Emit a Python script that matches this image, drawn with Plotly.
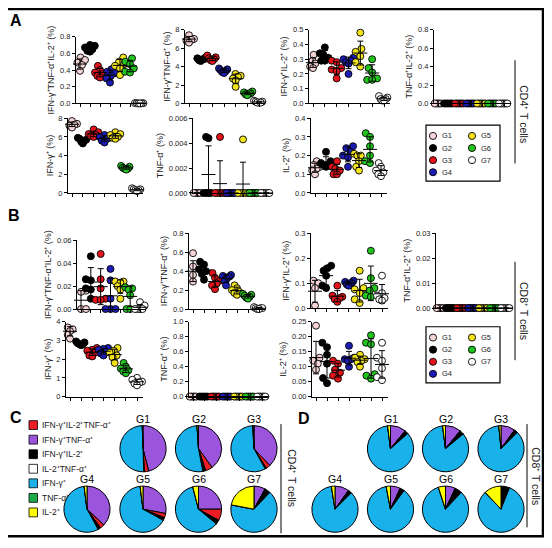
import numpy as np
import plotly.graph_objects as go

W, H = 552, 548
OX, OY = 8, 8  # page body margin offset of the plot div
FONT = "Arial, Liberation Sans, sans-serif"

groups = ["G1", "G2", "G3", "G4", "G5", "G6", "G7"]
group_fill = ["#f4d3d6", "#000000", "#e3141c", "#1c1cb4", "#f2e31b", "#23c41f", "#ffffff"]

# ---------------- Panel A : CD4+ T cells (% of cells) ----------------
cd4_ifng_tnfa_il2 = [[0.55, 0.52, 0.49, 0.46, 0.42, 0.39], [0.70, 0.69, 0.67, 0.65, 0.63, 0.62],
                     [0.45, 0.40, 0.37, 0.35, 0.33, 0.31], [0.41, 0.38, 0.36, 0.33, 0.30, 0.25],
                     [0.55, 0.50, 0.47, 0.45, 0.42, 0.34], [0.54, 0.50, 0.47, 0.42, 0.38, 0.37],
                     [0.005, 0.004, 0.003, 0.002, 0.001, 0.0]]
cd4_ifng_tnfa = [[7.4, 7.2, 7.0, 6.9, 6.8, 6.6], [5.0, 4.9, 4.8, 4.8, 4.7, 4.6],
                 [5.2, 5.0, 4.9, 4.8, 4.7, 4.6], [3.8, 3.7, 3.6, 3.5, 3.4, 3.3],
                 [3.2, 3.0, 2.9, 2.7, 2.5, 1.8], [1.3, 1.2, 1.1, 1.1, 1.0, 0.9],
                 [0.3, 0.2, 0.2, 0.1, 0.1, 0.1]]
cd4_ifng_il2 = [[0.33, 0.29, 0.28, 0.27, 0.25, 0.24], [0.38, 0.34, 0.33, 0.31, 0.29, 0.29],
                [0.29, 0.28, 0.24, 0.23, 0.22, 0.17], [0.31, 0.30, 0.29, 0.28, 0.27, 0.20],
                [0.48, 0.37, 0.35, 0.32, 0.28, 0.25], [0.30, 0.24, 0.21, 0.17, 0.16, 0.16],
                [0.05, 0.04, 0.03, 0.03, 0.02, 0.02]]
cd4_tnfa_il2 = [[0.0] * 6 for _ in range(7)]
cd4_ifng = [[7.7, 7.5, 7.4, 7.3, 7.2, 7.0], [5.9, 5.8, 5.7, 5.6, 5.5, 5.3],
            [6.8, 6.5, 6.3, 6.2, 6.1, 6.0], [6.2, 6.0, 5.9, 5.8, 5.6, 5.4],
            [6.5, 6.3, 6.2, 6.0, 5.9, 5.8], [2.9, 2.8, 2.7, 2.6, 2.6, 2.5],
            [0.5, 0.4, 0.4, 0.3, 0.3, 0.2]]
cd4_tnfa = [[0, 0, 0, 0, 0, 0], [0.0045, 0.0044, 0, 0, 0, 0], [0.0045, 0, 0, 0, 0, 0],
            [0, 0, 0, 0, 0, 0], [0.0043, 0, 0, 0, 0, 0], [0, 0, 0, 0, 0, 0], [0, 0, 0, 0, 0, 0]]
cd4_il2 = [[0.17, 0.15, 0.14, 0.13, 0.12, 0.10], [0.22, 0.17, 0.16, 0.15, 0.15, 0.14],
           [0.17, 0.14, 0.13, 0.12, 0.10, 0.10], [0.25, 0.24, 0.22, 0.20, 0.19, 0.14],
           [0.21, 0.20, 0.20, 0.17, 0.14, 0.12], [0.32, 0.30, 0.25, 0.20, 0.17, 0.16],
           [0.16, 0.14, 0.12, 0.11, 0.10, 0.09]]

# ---------------- Panel B : CD8+ T cells ----------------
cd8_ifng_tnfa_il2 = [[0.016, 0.015, 0.015, 0, 0, 0], [0.046, 0.026, 0.025, 0.018, 0.017, 0.009],
                     [0.048, 0.026, 0.018, 0.009, 0.008, 0.008], [0.035, 0.025, 0.009, 0, 0, 0],
                     [0.024, 0.024, 0.023, 0.020, 0.017, 0.009], [0.019, 0.018, 0.017, 0.012, 0, 0],
                     [0.006, 0.003, 0, 0, 0, 0]]
cd8_ifng_tnfa = [[0.59, 0.45, 0.40, 0.36, 0.31, 0.29], [0.50, 0.47, 0.42, 0.40, 0.37, 0.31],
                 [0.38, 0.33, 0.30, 0.27, 0.25, 0.21], [0.36, 0.35, 0.34, 0.32, 0.30, 0.25],
                 [0.25, 0.22, 0.20, 0.18, 0.17, 0.15], [0.16, 0.15, 0.14, 0.13, 0.12, 0.11],
                 [0.02, 0.01, 0.01, 0.01, 0.0, 0.0]]
cd8_ifng_il2 = [[0.11, 0.10, 0.09, 0.08, 0.015, 0.01], [0.17, 0.16, 0.15, 0.13, 0.09, 0.08],
                [0.09, 0.05, 0.045, 0.04, 0.035, 0.025], [0.11, 0.105, 0.10, 0.10, 0.095, 0.09],
                [0.15, 0.08, 0.075, 0.06, 0.035, 0.02], [0.23, 0.12, 0.08, 0.07, 0.05, 0.045],
                [0.13, 0.06, 0.05, 0.04, 0.035, 0.03]]
cd8_tnfa_il2 = [[0.0] * 6 for _ in range(7)]
cd8_ifng = [[3.75, 3.7, 3.6, 3.5, 3.3, 3.1], [2.95, 2.9, 2.85, 2.8, 2.8, 2.75],
            [2.6, 2.5, 2.45, 2.35, 2.2, 2.15], [2.6, 2.55, 2.5, 2.4, 2.3, 2.2],
            [2.6, 2.45, 2.35, 2.2, 2.1, 1.8], [1.8, 1.6, 1.5, 1.4, 1.35, 1.25],
            [1.0, 0.9, 0.8, 0.75, 0.7, 0.6]]
cd8_tnfa = [[0.0] * 6 for _ in range(7)]
cd8_il2 = [[0.237, 0.13, 0.12, 0.11, 0.095, 0.09], [0.18, 0.165, 0.14, 0.11, 0.062, 0.045],
           [0.12, 0.11, 0.09, 0.08, 0.07, 0.06], [0.17, 0.13, 0.125, 0.125, 0.12, 0.10],
           [0.14, 0.13, 0.125, 0.12, 0.115, 0.10], [0.205, 0.18, 0.175, 0.075, 0.07, 0.06],
           [0.18, 0.13, 0.12, 0.095, 0.065, 0.055]]

# ---------------- Pies (C: CD4, D: CD8), slices in clockwise order ----------------
pie_labels = ["IFN-γ⁺TNF-α⁺", "IFN-γ⁺IL-2⁺TNF-α⁺", "IFN-γ⁺IL-2⁺", "IL-2⁺TNF-α⁺",
              "IFN-γ⁺", "TNF-α⁺", "IL-2⁺"]
pie_colors = ["#9b55dc", "#ee1c25", "#000000", "#ffffff", "#19b1ea", "#1faa4a", "#ffff00"]
cd4_pie = [[46, 3, 0.5, 0, 50, 0, 0.5], [40, 5, 2, 0, 52, 0, 1], [38, 3, 1, 0, 57, 0.5, 0.5],
           [37, 3, 2, 0, 56, 0, 2], [28, 3, 2, 0, 65, 0, 2], [25, 8, 3, 0, 60, 0, 4],
           [8, 0, 4, 0, 66, 0, 22]]
cd8_pie = [[11, 0, 2.5, 0, 84.5, 0, 2], [11, 0, 3, 0, 84, 0, 2], [10, 0, 2.5, 0, 86, 0, 1.5],
           [10, 0, 2.5, 0, 85, 0, 2.5], [7, 0, 3, 0, 87, 0, 3], [7, 0, 5, 0, 83, 0, 5],
           [0, 0, 6, 0, 82, 0, 12]]
legend_order = ["IFN-γ⁺IL-2⁺TNF-α⁺", "IFN-γ⁺TNF-α⁺", "IFN-γ⁺IL-2⁺", "IL-2⁺TNF-α⁺",
                "IFN-γ⁺", "TNF-α⁺", "IL-2⁺"]


def fx(px):
    return (px - OX) / W


def fy(py):
    return 1 - (py - OY) / H


# panel specs: data, ymax, dtick, tickformat, title, pixel box (x0, x1, ytop, ybot)
panels = [
    (cd4_ifng_tnfa_il2, 0.8, 0.2, ".1f", "IFN-γ⁺TNF-α⁺IL-2⁺ (%)", (76, 146, 33, 101)),
    (cd4_ifng_tnfa, 8, 2, "d", "IFN-γ⁺TNF-α⁺ (%)", (185, 265, 26, 101)),
    (cd4_ifng_il2, 0.5, 0.1, ".1f", "IFN-γ⁺IL-2⁺ (%)", (309, 390, 26, 101)),
    (cd4_tnfa_il2, 0.8, 0.2, ".1f", "TNF-α⁺IL-2⁺ (%)", (434, 510, 26, 101)),
    (cd4_ifng, 8, 2, "d", "IFN-γ⁺ (%)", (68, 143, 116, 192)),
    (cd4_tnfa, 0.006, 0.002, ".3f", "TNF-α⁺ (%)", (193, 272, 116, 192)),
    (cd4_il2, 0.4, 0.1, ".1f", "IL-2⁺ (%)", (311, 387, 116, 192)),
    (cd8_ifng_tnfa_il2, 0.06, 0.02, ".2f", "IFN-γ⁺TNF-α⁺IL-2⁺ (%)", (77, 146, 240, 310)),
    (cd8_ifng_tnfa, 0.8, 0.2, ".1f", "IFN-γ⁺TNF-α⁺ (%)", (189, 265, 233, 310)),
    (cd8_ifng_il2, 0.3, 0.1, ".1f", "IFN-γ⁺IL-2⁺ (%)", (311, 388, 233, 309)),
    (cd8_tnfa_il2, 0.03, 0.01, ".2f", "TNF-α⁺IL-2⁺ (%)", (436, 512, 233, 309)),
    (cd8_ifng, 4, 1, "d", "IFN-γ⁺ (%)", (66, 143, 323, 399)),
    (cd8_tnfa, 1.0, 0.2, ".1f", "TNF-α⁺ (%)", (189, 268, 323, 399)),
    (cd8_il2, 0.25, 0.05, ".2f", "IL-2⁺ (%)", (312, 388, 323, 399)),
]


def swarm(vals, ppu_y, d=6.5, cap=5.0):
    vals = np.asarray(vals, float)
    order = np.argsort(vals)
    placed = []
    offs = np.zeros(len(vals))
    for i in order:
        y = vals[i] * ppu_y
        cands = [0.0]
        for px, py in placed:
            dy = abs(y - py)
            if dy < d:
                dx = np.sqrt(d * d - dy * dy)
                cands += [px + dx, px - dx]
        cands.sort(key=lambda c: (round(abs(c), 6), c))
        for c in cands:
            if all((c - px) ** 2 + (y - py) ** 2 >= d * d - 1e-6 for px, py in placed):
                offs[i] = c
                break
        placed.append((offs[i], y))
    m = np.max(np.abs(offs))
    if m > cap:
        offs *= cap / m
    return offs


fig = go.Figure()
layout = dict(width=W, height=H, margin=dict(l=0, r=0, t=0, b=0),
              paper_bgcolor="white", plot_bgcolor="white", showlegend=False,
              font=dict(family=FONT, color="black"))

for k, (data, ymax, dtick, tfmt, title, box) in enumerate(panels, start=1):
    x0, x1, yt, yb = box
    L = x1 - x0
    s = (L - 10) / 6.0
    r0, r1 = 1 - 4 / s, 7 + 6 / s
    ppu_y = (yb - yt) / ymax
    xa = "x" if k == 1 else f"x{k}"
    ya = "y" if k == 1 else f"y{k}"
    for g, vals in enumerate(data):
        offs = swarm(vals, ppu_y) / s
        fig.add_trace(go.Scatter(
            x=[g + 1 + o for o in offs], y=vals, mode="markers", xaxis=xa, yaxis=ya,
            cliponaxis=False, hoverinfo="skip",
            marker=dict(size=7, color=group_fill[g], line=dict(color="black", width=0.9))))
    means = [float(np.mean(v)) for v in data]
    sds = [float(np.std(v, ddof=1)) for v in data]
    fig.add_trace(go.Scatter(
        x=list(range(1, 8)), y=means, mode="markers", xaxis=xa, yaxis=ya, cliponaxis=False,
        hoverinfo="skip",
        marker=dict(symbol="line-ew", size=10, color="black", line=dict(color="black", width=1)),
        error_y=dict(type="data", array=sds, visible=True, color="black", thickness=1, width=3)))
    layout["xaxis" if k == 1 else f"xaxis{k}"] = dict(
        domain=[fx(x0), fx(x1)], range=[r0, r1], anchor=ya, showgrid=False, zeroline=False,
        showline=True, linecolor="black", linewidth=1, ticks="outside", ticklen=3,
        tickwidth=1, tickcolor="black", tickvals=list(range(1, 8)), showticklabels=False)
    layout["yaxis" if k == 1 else f"yaxis{k}"] = dict(
        domain=[fy(yb), fy(yt)], range=[0, ymax], anchor=xa, showgrid=False, zeroline=False,
        showline=True, linecolor="black", linewidth=1, ticks="outside", ticklen=3,
        tickwidth=1, tickcolor="black", dtick=dtick, tick0=0, tickformat=tfmt,
        tickfont=dict(size=7.5, family=FONT, color="#222"),
        title=dict(text=title, font=dict(size=9, family=FONT, color="#222"), standoff=3))


def note(x, y, text, size, xanchor="center", yanchor="middle", angle=0, color="#222"):
    return dict(x=fx(x), y=fy(y), xref="paper", yref="paper", text=text, showarrow=False,
                xanchor=xanchor, yanchor=yanchor, textangle=angle, borderpad=0,
                font=dict(size=size, family=FONT, color=color))


# pies
R = 23.5
pie_pos_c = [(143, 452), (198.5, 452), (254, 452), (87, 513.5), (143, 513.5), (198.5, 513.5), (254, 513.5)]
pie_pos_d = [(390.5, 452), (445.5, 452), (501, 452), (335, 513.5), (390.5, 513.5), (445.5, 513.5), (501, 513.5)]
annotations = []
for pies, pos in ((cd4_pie, pie_pos_c), (cd8_pie, pie_pos_d)):
    for g, (vals, (cx, cy)) in enumerate(zip(pies, pos)):
        fig.add_trace(go.Pie(
            values=vals, labels=pie_labels, sort=False, direction="clockwise", rotation=0,
            textinfo="none", hoverinfo="skip", showlegend=False,
            marker=dict(colors=pie_colors, line=dict(color="black", width=1)),
            domain=dict(x=[fx(cx - R), fx(cx + R)], y=[fy(cy + R), fy(cy - R)])))
        annotations.append(note(cx, cy - R - 7, groups[g], 10.5, color="black"))

shapes = []
# outer frame
shapes.append(dict(type="rect", xref="paper", yref="paper", x0=fx(6.5), x1=fx(543),
                   y0=fy(541), y1=fy(5), line=dict(color="black", width=2.5)))

# group legends (A and B)
leg_items = [(0, 0, 0), (4, 1, 0), (1, 0, 1), (5, 1, 1), (2, 0, 2), (6, 1, 2), (3, 0, 3)]
for ytop_box, ybot_box, row0 in ((123, 180, 134), (328, 385, 339)):
    shapes.append(dict(type="rect", xref="paper", yref="paper", x0=fx(426), x1=fx(500),
                       y0=fy(ybot_box), y1=fy(ytop_box), line=dict(color="black", width=1.2)))
    for g, col, row in leg_items:
        cx = 433 if col == 0 else 472
        cy = row0 + row * 12.3
        shapes.append(dict(type="circle", xref="paper", yref="paper",
                           x0=fx(cx - 3.6), x1=fx(cx + 3.6), y0=fy(cy + 3.6), y1=fy(cy - 3.6),
                           fillcolor=group_fill[g], line=dict(color="black", width=0.9)))
        annotations.append(note(cx + 7.5, cy, groups[g], 7.5, xanchor="left"))

# pie legend (C)
for i, lab in enumerate(legend_order):
    cy = 428 + i * 14.8
    col = pie_colors[pie_labels.index(lab)]
    shapes.append(dict(type="rect", xref="paper", yref="paper", x0=fx(29), x1=fx(37.5),
                       y0=fy(cy + 4.5), y1=fy(cy - 4.5), fillcolor=col,
                       line=dict(color="black", width=0.8)))
    annotations.append(note(40.5, cy, lab, 8.5, xanchor="left"))

# side labels with separator lines
for lx, y0, y1, tx, ty, txt in ((515, 57, 162, 524, 112, "CD4⁺ T cells"),
                                (515, 262, 362, 524, 312, "CD8⁺ T cells"),
                                (281, 427, 538, 292, 482, "CD4⁺ T cells"),
                                (527, 427, 532, 536, 480, "CD8⁺ T cells")):
    shapes.append(dict(type="line", xref="paper", yref="paper", x0=fx(lx), x1=fx(lx),
                       y0=fy(y1), y1=fy(y0), line=dict(color="black", width=1)))
    annotations.append(note(tx, ty, txt, 10.5, angle=90))

# panel letters
for txt, x, y in (("A", 16, 17), ("B", 14, 215), ("C", 16, 420), ("D", 304, 421)):
    annotations.append(note(x, y, f"<b>{txt}</b>", 16, color="black"))

layout["shapes"] = shapes
layout["annotations"] = annotations
fig.update_layout(**layout)
fig.write_html("out.html")
